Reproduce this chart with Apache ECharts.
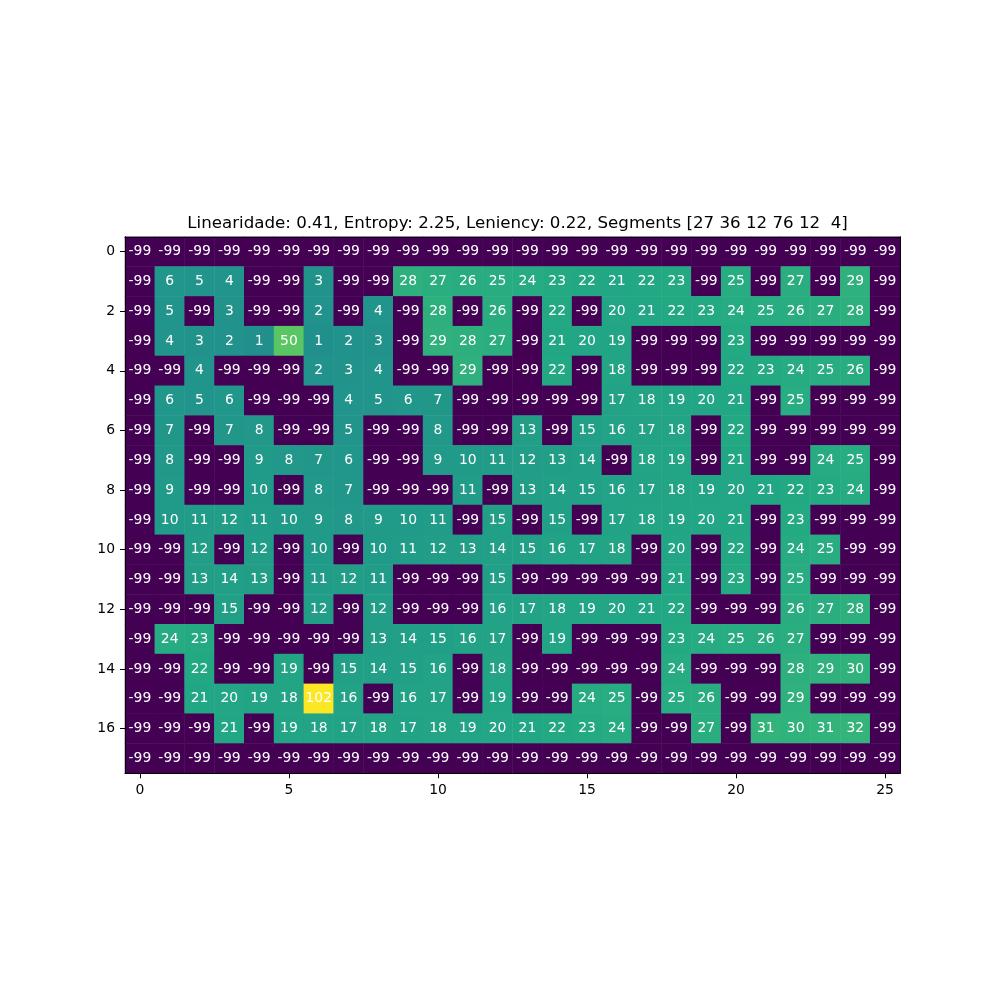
<!DOCTYPE html>
<html>
<head>
<meta charset="utf-8">
<script src="https://cdn.jsdelivr.net/npm/echarts@6/dist/echarts.min.js"></script>
<style>
html,body{margin:0;padding:0;background:#fff;}
#chart{width:1000px;height:1000px;}
</style>
</head>
<body>
<div id="chart"></div>
<script>
const titleText = 'Linearidade: 0.41, Entropy: 2.25, Leniency: 0.22, Segments [27 36 12 76 12  4]';
const xCategories = Array.from({length: 26}, (_, i) => String(i));
const yCategories = Array.from({length: 18}, (_, i) => String(i));

const row0  = [-99,-99,-99,-99,-99,-99,-99,-99,-99,-99,-99,-99,-99,-99,-99,-99,-99,-99,-99,-99,-99,-99,-99,-99,-99,-99];
const row1  = [-99,6,5,4,-99,-99,3,-99,-99,28,27,26,25,24,23,22,21,22,23,-99,25,-99,27,-99,29,-99];
const row2  = [-99,5,-99,3,-99,-99,2,-99,4,-99,28,-99,26,-99,22,-99,20,21,22,23,24,25,26,27,28,-99];
const row3  = [-99,4,3,2,1,50,1,2,3,-99,29,28,27,-99,21,20,19,-99,-99,-99,23,-99,-99,-99,-99,-99];
const row4  = [-99,-99,4,-99,-99,-99,2,3,4,-99,-99,29,-99,-99,22,-99,18,-99,-99,-99,22,23,24,25,26,-99];
const row5  = [-99,6,5,6,-99,-99,-99,4,5,6,7,-99,-99,-99,-99,-99,17,18,19,20,21,-99,25,-99,-99,-99];
const row6  = [-99,7,-99,7,8,-99,-99,5,-99,-99,8,-99,-99,13,-99,15,16,17,18,-99,22,-99,-99,-99,-99,-99];
const row7  = [-99,8,-99,-99,9,8,7,6,-99,-99,9,10,11,12,13,14,-99,18,19,-99,21,-99,-99,24,25,-99];
const row8  = [-99,9,-99,-99,10,-99,8,7,-99,-99,-99,11,-99,13,14,15,16,17,18,19,20,21,22,23,24,-99];
const row9  = [-99,10,11,12,11,10,9,8,9,10,11,-99,15,-99,15,-99,17,18,19,20,21,-99,23,-99,-99,-99];
const row10 = [-99,-99,12,-99,12,-99,10,-99,10,11,12,13,14,15,16,17,18,-99,20,-99,22,-99,24,25,-99,-99];
const row11 = [-99,-99,13,14,13,-99,11,12,11,-99,-99,-99,15,-99,-99,-99,-99,-99,21,-99,23,-99,25,-99,-99,-99];
const row12 = [-99,-99,-99,15,-99,-99,12,-99,12,-99,-99,-99,16,17,18,19,20,21,22,-99,-99,-99,26,27,28,-99];
const row13 = [-99,24,23,-99,-99,-99,-99,-99,13,14,15,16,17,-99,19,-99,-99,-99,23,24,25,26,27,-99,-99,-99];
const row14 = [-99,-99,22,-99,-99,19,-99,15,14,15,16,-99,18,-99,-99,-99,-99,-99,24,-99,-99,-99,28,29,30,-99];
const row15 = [-99,-99,21,20,19,18,102,16,-99,16,17,-99,19,-99,-99,24,25,-99,25,26,-99,-99,29,-99,-99,-99];
const row16 = [-99,-99,-99,21,-99,19,18,17,18,17,18,19,20,21,22,23,24,-99,-99,27,-99,31,30,31,32,-99];
const row17 = [-99,-99,-99,-99,-99,-99,-99,-99,-99,-99,-99,-99,-99,-99,-99,-99,-99,-99,-99,-99,-99,-99,-99,-99,-99,-99];

const rows = [row0,row1,row2,row3,row4,row5,row6,row7,row8,row9,row10,row11,row12,row13,row14,row15,row16,row17];

const viridis = ['#440154','#482475','#414487','#355f8d','#2a788e','#21918c','#22a884','#44bf70','#7ad151','#bddf26','#fde725'];

const heatData = [];
rows.forEach((r, y) => r.forEach((v, x) => heatData.push([x, y, v])));
let vmin = Infinity, vmax = -Infinity;
rows.forEach(r => r.forEach(v => { if (v < vmin) vmin = v; if (v > vmax) vmax = v; }));

const FONT = 'DejaVu Sans';
const chart = echarts.init(document.getElementById('chart'), null, {renderer: 'canvas'});
const gridTop = 236.75, gridH = 775 * 18 / 26;
chart.setOption({
  animation: false,
  backgroundColor: '#fff',
  textStyle: {fontFamily: FONT},
  title: {
    text: titleText,
    left: 512.5,
    textAlign: 'center',
    top: 210,
    textStyle: {fontFamily: FONT, fontSize: 16.67, fontWeight: 'normal', color: '#000'}
  },
  grid: {left: 125, width: 775, top: gridTop, height: gridH, containLabel: false},
  visualMap: {
    show: false, type: 'continuous', min: vmin, max: vmax, dimension: 2,
    seriesIndex: 0, inRange: {color: viridis}
  },
  xAxis: [{
    type: 'category', data: xCategories, position: 'bottom', z: 10,
    axisLine: {show: true, onZero: false, lineStyle: {color: '#000', width: 1}},
    axisTick: {show: true, alignWithLabel: true, length: 5, interval: (i) => i % 5 === 0, lineStyle: {color: '#000'}},
    axisLabel: {show: true, interval: (i) => i % 5 === 0, margin: 10, color: '#000', fontSize: 13.9, fontFamily: FONT},
    splitLine: {show: false}
  }, {
    type: 'category', data: xCategories, position: 'top', z: 10,
    axisLine: {show: true, onZero: false, lineStyle: {color: '#000', width: 1}},
    axisTick: {show: false}, axisLabel: {show: false}, splitLine: {show: false}
  }],
  yAxis: [{
    type: 'category', data: yCategories, inverse: true, position: 'left', z: 10,
    axisLine: {show: true, onZero: false, lineStyle: {color: '#000', width: 1}},
    axisTick: {show: true, alignWithLabel: true, length: 5, interval: (i) => i % 2 === 0, lineStyle: {color: '#000'}},
    axisLabel: {show: true, interval: (i) => i % 2 === 0, margin: 10, color: '#000', fontSize: 13.9, fontFamily: FONT},
    splitLine: {show: false}
  }, {
    type: 'category', data: yCategories, inverse: true, position: 'right', z: 10,
    axisLine: {show: true, onZero: false, lineStyle: {color: '#000', width: 1}},
    axisTick: {show: false}, axisLabel: {show: false}, splitLine: {show: false}
  }],
  series: [{
    type: 'heatmap',
    xAxisIndex: 0, yAxisIndex: 0,
    data: heatData,
    label: {
      show: true, color: '#fff', fontSize: 13.9, fontFamily: FONT,
      formatter: (p) => String(p.value[2])
    },
    itemStyle: {borderWidth: 0},
    emphasis: {disabled: true}
  }]
});
</script>
</body>
</html>
